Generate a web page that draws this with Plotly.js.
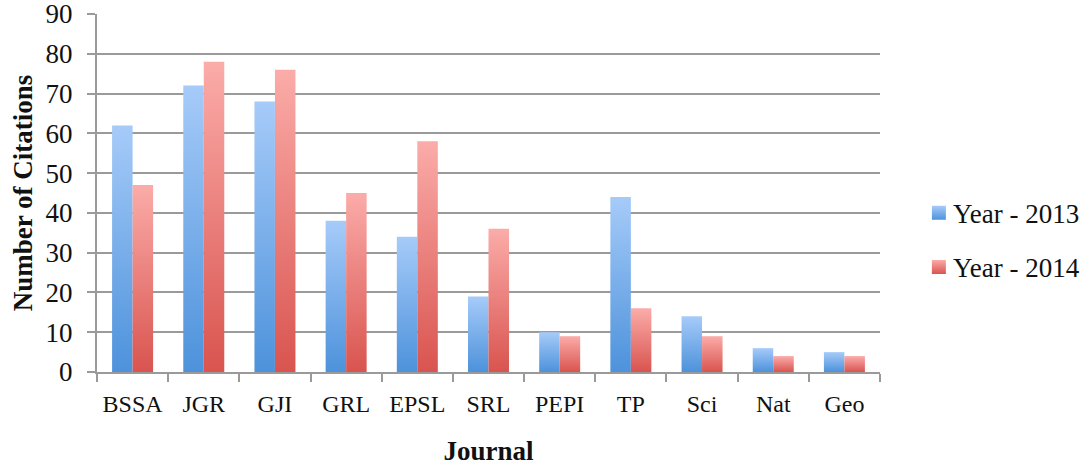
<!DOCTYPE html>
<html><head><meta charset="utf-8">
<script src="https://cdn.plot.ly/plotly-3.0.1.min.js"></script>
<style>html,body{margin:0;padding:0;background:#fff}</style>
</head><body><div id="chart" style="width:1084px;height:466px"></div>
<script>
const journals = ['BSSA','JGR','GJI','GRL','EPSL','SRL','PEPI','TP','Sci','Nat','Geo'];
const citations2013 = [62,72,68,38,34,19,10,44,14,6,5];
const citations2014 = [47,78,76,45,58,36,9,16,9,4,4];
const seriesNames = ['Year - 2013','Year - 2014'];
const yTicks = [0,10,20,30,40,50,60,70,80,90];

const FONT = 'Liberation Serif, Times New Roman, serif';
const GRID = '#9a9a9a';

const traces = [
  {type:'bar', name:seriesNames[0], x:journals, y:citations2013, legendgroup:'a',
   marker:{color:'#7aaeeb'}, hoverinfo:'none'},
  {type:'bar', name:seriesNames[1], x:journals, y:citations2014, legendgroup:'b',
   marker:{color:'#ec8682'}, hoverinfo:'none'}
];

const layout = {
  width:1084, height:466,
  margin:{l:97, r:204, t:14, b:94, autoexpand:false},
  paper_bgcolor:'#fff', plot_bgcolor:'#fff',
  barmode:'group', bargap:0.424, bargroupgap:0,
  font:{family:FONT, color:'#222', size:24},
  showlegend:true,
  legend:{x:1.042, xanchor:'left', y:0.368, yanchor:'middle',
          font:{family:FONT, size:27, color:'#111'},
          traceorder:'grouped', tracegroupgap:16, bgcolor:'rgba(0,0,0,0)'},
  xaxis:{
    type:'category', showline:true, linecolor:GRID, linewidth:2,
    ticks:'outside', tickson:'boundaries', ticklen:8, tickwidth:2, tickcolor:GRID,
    showgrid:false, zeroline:false, tickangle:0,
    tickfont:{family:FONT, size:24, color:'#111'},
    ticklabelstandoff:9,
    title:{text:'<b>Journal</b>', font:{family:FONT, size:27, color:'#111'}, standoff:26}
  },
  yaxis:{
    range:[0,90], tickvals:yTicks, ticktext:yTicks.map(String),
    showline:true, linecolor:GRID, linewidth:2,
    ticks:'outside', ticklen:8, tickwidth:2, tickcolor:GRID,
    showgrid:true, gridcolor:GRID, gridwidth:2, zeroline:false,
    ticklabeloverflow:'allow',
    tickfont:{family:FONT, size:27, color:'#111'},
    ticklabelstandoff:9,
    title:{text:'<b>Number of Citations</b>', font:{family:FONT, size:27, color:'#111'}, standoff:5}
  }
};

Plotly.newPlot('chart', traces, layout, {staticPlot:true, displayModeBar:false}).then(gd => {
  const NS = 'http://www.w3.org/2000/svg';
  const svg = gd.querySelector('svg.main-svg');
  let defs = svg.querySelector('defs');
  if (!defs) { defs = document.createElementNS(NS,'defs'); svg.insertBefore(defs, svg.firstChild); }
  const grads = [
    {id:'gradBlue', top:'#a6cbf9', bottom:'#4d92db'},
    {id:'gradRed', top:'#fbaca9', bottom:'#d9544f'}
  ];
  grads.forEach(g => {
    const lg = document.createElementNS(NS,'linearGradient');
    lg.setAttribute('id', g.id);
    lg.setAttribute('x1','0'); lg.setAttribute('y1','0');
    lg.setAttribute('x2','0'); lg.setAttribute('y2','1');
    [[0,g.top],[1,g.bottom]].forEach(([o,c]) => {
      const s = document.createElementNS(NS,'stop');
      s.setAttribute('offset', o); s.setAttribute('stop-color', c);
      lg.appendChild(s);
    });
    defs.appendChild(lg);
  });
  const barTraces = gd.querySelectorAll('g.trace.bars');
  barTraces.forEach((t,i) => {
    t.querySelectorAll('path').forEach(p => { p.style.fill = 'url(#' + grads[i].id + ')'; });
  });
  const legTraces = gd.querySelectorAll('.legend g.traces');
  legTraces.forEach((t,i) => {
    t.querySelectorAll('.legendpoints path').forEach(p => {
      p.setAttribute('d','M13,7H-1V-7H13Z');
      p.style.fill = 'url(#' + grads[i].id + ')';
    });
  });
});
</script>
</body></html>
